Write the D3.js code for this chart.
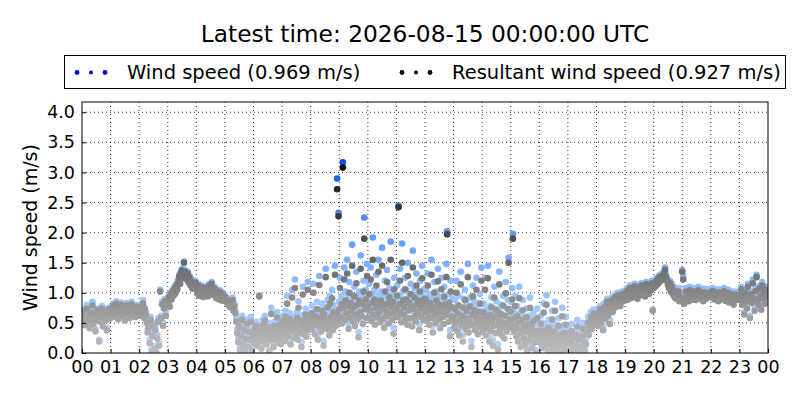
<!DOCTYPE html>
<html>
<head>
<meta charset="utf-8">
<script src="https://cdn.jsdelivr.net/npm/d3@7"></script>
<style>
  body { margin: 0; background: #fff; }
  text { font-family: "DejaVu Sans", sans-serif; }
</style>
</head>
<body>
<div id="chart"></div>
<script>
// 00:00-05:58, one sample every 2 minutes (m/s), one row per hour
var earlyWind = [
  0.66,0.58,0.72,0.50,0.62,0.80,0.55,0.64,0.45,0.70,0.60,0.85,0.52,0.68,0.40,0.58,0.74,0.62,0.22,0.55,0.66,0.78,0.48,0.63,0.70,0.57,0.42,0.69,0.75,0.60,
  0.70,0.78,0.64,0.82,0.73,0.68,0.86,0.75,0.60,0.79,0.71,0.84,0.66,0.76,0.80,0.58,0.74,0.83,0.69,0.77,0.62,0.72,0.85,0.67,0.78,0.71,0.64,0.80,0.74,0.68,
  0.74,0.66,0.80,0.70,0.88,0.62,0.75,0.68,0.55,0.40,0.48,0.22,0.60,0.05,0.35,0.50,0.12,0.44,0.02,0.30,0.58,0.18,1.05,0.62,0.85,0.50,0.78,0.90,0.66,0.82,
  0.85,0.95,0.80,1.00,0.92,1.05,0.98,1.10,1.02,1.15,1.08,1.22,1.30,1.18,1.36,1.40,1.28,1.52,1.38,1.32,1.25,1.35,1.20,1.28,1.15,1.22,1.10,1.18,1.12,1.20,
  1.10,1.02,1.15,0.98,1.08,1.05,1.12,0.96,1.04,1.10,1.00,1.06,0.97,1.14,1.08,1.02,1.18,1.05,0.99,1.10,1.03,0.94,1.06,1.00,0.92,1.04,0.98,0.90,1.00,0.94,
  0.96,0.88,0.92,0.84,0.90,0.80,0.86,0.78,0.92,0.74,0.82,0.70,0.58,0.40,0.25,0.50,0.10,0.35,0.62,0.20,0.45,0.05,0.30,0.55,0.15,0.42,0.28,0.60,0.08,0.38
];
var earlyResultant = [
  0.63,0.55,0.70,0.46,0.60,0.74,0.52,0.61,0.41,0.67,0.57,0.79,0.48,0.65,0.36,0.55,0.71,0.59,0.19,0.52,0.63,0.74,0.44,0.60,0.67,0.54,0.38,0.66,0.72,0.57,
  0.67,0.75,0.60,0.79,0.70,0.64,0.82,0.72,0.56,0.76,0.68,0.80,0.62,0.73,0.77,0.54,0.71,0.79,0.66,0.74,0.58,0.69,0.81,0.63,0.75,0.68,0.60,0.77,0.71,0.64,
  0.71,0.63,0.76,0.67,0.82,0.58,0.72,0.64,0.50,0.34,0.43,0.16,0.55,0.02,0.28,0.45,0.07,0.38,0.00,0.24,0.52,0.12,1.02,0.58,0.81,0.45,0.74,0.86,0.62,0.78,
  0.82,0.92,0.77,0.97,0.89,1.02,0.95,1.07,0.99,1.12,1.05,1.19,1.27,1.15,1.33,1.37,1.25,1.50,1.35,1.29,1.22,1.32,1.17,1.25,1.12,1.19,1.07,1.15,1.09,1.17,
  1.07,0.99,1.12,0.95,1.05,1.02,1.09,0.93,1.01,1.07,0.97,1.03,0.94,1.11,1.05,0.99,1.15,1.02,0.96,1.07,1.00,0.91,1.03,0.97,0.89,1.01,0.95,0.87,0.97,0.91,
  0.93,0.85,0.89,0.81,0.87,0.77,0.83,0.75,0.88,0.70,0.78,0.66,0.52,0.33,0.18,0.44,0.05,0.28,0.55,0.14,0.38,0.02,0.24,0.48,0.10,0.35,0.22,0.52,0.04,0.31
];

// 06:00-16:58, gusty part of the day, one sample every 90 seconds (m/s)
var dayWind = [
  0.35,0.22,0.48,0.30,0.52,0.18,0.41,0.27,0.96,0.44,0.33,0.12,0.38,0.55,0.25,0.46,0.62,0.30,0.20,0.42,0.36,0.50,0.05,0.28,0.45,0.75,0.34,0.40,0.16,0.52,0.29,0.47,0.38,0.68,0.24,0.43,0.31,0.55,0.21,0.39,
  0.45,0.62,0.38,0.55,0.28,0.70,0.48,0.95,0.36,0.58,0.42,0.66,0.22,0.52,1.05,0.47,0.60,0.33,1.22,0.54,0.40,0.68,0.30,0.86,0.50,0.44,0.62,0.18,0.56,1.10,0.39,0.64,0.48,0.74,0.35,0.58,1.18,0.46,0.66,0.52,
  0.62,0.48,0.78,0.55,1.15,0.66,0.40,0.72,0.58,0.85,0.30,0.64,1.28,0.52,0.70,0.45,0.82,0.60,0.20,0.75,0.54,1.40,0.68,0.50,0.88,0.62,0.38,0.95,0.57,0.72,1.05,0.48,0.80,0.65,1.45,0.55,0.74,2.90,0.68,2.33,
  0.85,1.25,0.72,0.95,0.60,3.17,0.88,1.42,0.66,1.02,0.78,1.55,0.92,0.50,1.18,0.70,0.98,0.82,1.80,0.64,0.90,1.10,0.55,0.76,1.35,0.94,0.68,0.35,1.02,0.80,1.62,0.74,0.96,0.58,1.20,2.25,0.86,1.05,0.70,1.48,
  0.92,0.70,1.15,0.82,1.42,0.64,0.98,1.92,0.76,1.05,0.58,0.88,1.30,0.72,0.95,1.55,0.80,0.62,1.02,0.86,1.75,0.68,0.94,0.52,1.20,0.84,0.74,1.38,0.96,0.60,1.08,0.78,1.85,0.90,0.66,1.00,0.42,1.25,0.82,0.72,
  0.88,1.12,0.72,2.45,0.95,1.40,0.80,0.62,1.82,1.02,0.76,0.90,1.25,0.68,1.05,0.58,1.50,0.84,0.98,0.70,1.15,0.92,0.55,1.70,0.86,1.08,0.74,0.64,1.32,0.96,0.80,1.02,0.48,1.20,0.88,0.72,1.45,0.94,0.66,1.06,
  0.82,1.05,0.66,0.92,1.32,0.74,0.58,0.98,0.86,1.55,0.70,0.45,0.90,1.18,0.78,0.62,1.02,0.84,1.40,0.68,0.94,0.52,0.80,1.25,0.72,0.88,0.60,1.10,0.96,0.76,1.48,2.02,0.85,0.64,0.98,0.38,1.20,0.74,0.90,0.66,
  0.72,0.55,0.88,0.64,1.20,0.48,0.80,0.95,0.40,0.68,1.35,0.58,0.76,0.30,0.90,0.62,1.05,0.52,0.84,0.70,1.48,0.45,0.66,0.92,0.58,0.20,0.78,1.12,0.60,0.86,0.50,0.74,1.25,0.65,0.42,0.82,0.56,0.98,0.70,1.42,
  0.65,0.48,0.82,0.58,1.25,0.40,0.72,0.55,1.45,0.62,0.30,0.78,0.50,0.92,0.68,0.22,0.58,1.10,0.74,0.45,0.86,0.60,0.15,0.70,1.35,0.52,0.80,0.42,0.64,0.95,0.56,0.35,0.76,1.18,0.62,0.48,0.88,1.58,0.70,0.55,
  0.85,0.62,1.08,1.98,0.72,0.48,0.95,0.58,0.40,0.78,0.30,0.65,1.10,0.52,0.20,0.70,0.45,0.88,0.36,0.60,0.25,0.55,0.74,0.12,0.48,0.62,0.32,0.92,0.42,0.58,0.18,0.50,0.68,0.28,0.44,0.05,0.38,0.74,0.30,0.50,
  0.40,0.28,0.62,0.35,0.18,0.50,0.82,0.30,0.45,0.22,0.96,0.38,0.12,0.55,0.32,0.05,0.44,0.26,0.70,0.36,0.15,0.48,0.85,0.28,0.40,0.10,0.34,0.58,0.22,0.42,0.02,0.30,0.75,0.25,0.45,0.15,0.38,0.60,0.28,0.44
];
var dayResultant = [
  0.29,0.16,0.41,0.24,0.45,0.12,0.34,0.21,0.94,0.37,0.27,0.07,0.31,0.47,0.19,0.39,0.54,0.23,0.14,0.35,0.29,0.43,0.02,0.21,0.38,0.65,0.27,0.33,0.10,0.45,0.22,0.40,0.31,0.59,0.17,0.36,0.24,0.47,0.15,0.32,
  0.37,0.53,0.30,0.46,0.20,0.60,0.40,0.82,0.28,0.49,0.34,0.56,0.14,0.43,0.92,0.39,0.51,0.25,1.08,0.45,0.32,0.58,0.22,0.75,0.41,0.36,0.53,0.10,0.47,0.97,0.31,0.55,0.40,0.64,0.27,0.49,1.05,0.38,0.57,0.43,
  0.52,0.39,0.66,0.45,1.00,0.55,0.31,0.61,0.48,0.73,0.22,0.53,1.13,0.42,0.59,0.36,0.70,0.50,0.12,0.64,0.44,1.26,0.57,0.40,0.76,0.52,0.29,0.82,0.47,0.61,0.91,0.38,0.68,0.55,1.30,0.45,0.63,2.72,0.57,2.27,
  0.72,1.08,0.60,0.81,0.49,3.08,0.75,1.22,0.55,0.87,0.66,1.32,0.78,0.40,1.00,0.59,0.83,0.70,1.45,0.53,0.76,0.94,0.45,0.64,1.16,0.80,0.57,0.26,0.87,0.68,1.40,0.62,0.82,0.48,1.02,1.90,0.73,0.89,0.58,1.28,
  0.78,0.58,0.98,0.70,1.22,0.53,0.83,1.55,0.64,0.89,0.47,0.75,1.12,0.60,0.81,1.35,0.68,0.51,0.87,0.73,1.45,0.57,0.80,0.42,1.02,0.71,0.62,1.18,0.82,0.49,0.92,0.66,1.55,0.77,0.55,0.85,0.32,1.06,0.70,0.60,
  0.75,0.95,0.60,2.42,0.81,1.20,0.68,0.51,1.50,0.87,0.64,0.77,1.06,0.56,0.89,0.47,1.28,0.71,0.83,0.58,0.98,0.78,0.44,1.42,0.73,0.92,0.62,0.53,1.12,0.82,0.67,0.87,0.38,1.02,0.75,0.60,1.24,0.80,0.55,0.90,
  0.69,0.89,0.54,0.78,1.12,0.62,0.47,0.83,0.72,1.30,0.58,0.34,0.76,1.00,0.65,0.50,0.87,0.71,1.19,0.56,0.80,0.41,0.67,1.06,0.60,0.74,0.48,0.93,0.81,0.63,1.26,1.97,0.72,0.52,0.83,0.28,1.02,0.61,0.76,0.54,
  0.59,0.43,0.73,0.51,1.00,0.36,0.66,0.79,0.29,0.55,1.14,0.46,0.62,0.19,0.75,0.49,0.88,0.40,0.70,0.57,1.26,0.34,0.53,0.77,0.46,0.10,0.64,0.94,0.48,0.71,0.38,0.60,1.05,0.52,0.31,0.68,0.44,0.82,0.57,1.20,
  0.52,0.36,0.67,0.45,1.05,0.29,0.58,0.42,1.24,0.49,0.19,0.63,0.37,0.76,0.54,0.12,0.45,0.92,0.60,0.33,0.71,0.47,0.06,0.56,1.14,0.40,0.65,0.30,0.51,0.79,0.43,0.24,0.62,0.99,0.49,0.36,0.73,1.50,0.56,0.42,
  0.69,0.48,0.89,1.90,0.57,0.35,0.78,0.44,0.28,0.62,0.19,0.51,0.91,0.39,0.10,0.55,0.33,0.71,0.24,0.46,0.14,0.42,0.59,0.04,0.35,0.48,0.21,0.75,0.30,0.44,0.08,0.37,0.53,0.17,0.32,0.00,0.26,0.58,0.19,0.37,
  0.28,0.17,0.48,0.23,0.08,0.37,0.67,0.19,0.33,0.12,0.80,0.26,0.04,0.42,0.21,0.00,0.32,0.15,0.56,0.24,0.06,0.36,0.70,0.17,0.28,0.03,0.23,0.45,0.12,0.30,0.00,0.19,0.61,0.14,0.33,0.06,0.26,0.47,0.17,0.32
];

// 17:00-24:00, one sample every 2 minutes (m/s)
var lateWind = [
  0.40,0.25,0.12,0.30,0.48,0.35,0.18,0.05,0.22,0.42,0.55,0.32,0.15,0.02,0.20,0.38,0.50,0.28,0.10,0.25,0.45,0.60,0.40,0.52,0.68,0.48,0.58,0.72,0.62,0.55,
  0.60,0.72,0.52,0.66,0.78,0.58,0.70,0.45,0.82,0.64,0.75,0.90,0.68,0.85,0.55,0.80,0.92,0.74,0.88,0.96,0.80,0.90,1.00,0.86,0.94,0.82,0.98,1.02,0.90,0.96,
  0.98,1.05,0.92,1.08,1.00,1.12,0.95,1.04,1.10,0.97,1.15,1.02,1.08,0.94,1.12,1.05,1.00,1.16,1.08,1.03,1.12,0.98,1.18,1.06,1.10,1.02,1.14,1.08,1.20,0.72,
  1.12,1.20,1.15,1.24,1.18,1.28,1.22,1.30,1.25,1.32,1.28,1.36,1.42,1.30,1.24,1.18,1.12,1.20,1.08,1.15,1.05,1.10,1.00,1.06,0.98,1.04,1.08,0.96,1.02,1.00,
  1.38,1.28,1.02,0.92,1.08,0.98,1.05,0.94,1.10,1.00,1.04,0.96,1.08,1.02,0.95,1.06,0.99,1.10,1.03,0.96,1.05,1.00,0.93,1.07,1.01,0.97,1.04,0.99,1.06,1.01,
  1.03,0.97,1.08,1.00,0.94,1.05,0.99,1.02,0.92,1.06,1.00,0.96,1.04,0.98,1.08,0.93,1.01,0.97,1.05,0.90,0.99,1.03,0.95,1.00,0.88,0.97,1.02,0.94,0.99,0.96,
  1.00,0.92,1.10,0.85,0.98,0.68,1.05,0.90,0.80,1.15,0.95,0.62,1.02,0.88,1.22,0.96,0.75,1.08,1.30,0.92,0.85,1.12,1.00,0.78,1.18,0.95,1.05,0.88,1.10,0.98,
  0.969
];
var lateResultant = [
  0.30,0.16,0.05,0.20,0.36,0.25,0.08,0.00,0.12,0.30,0.44,0.22,0.06,0.00,0.10,0.28,0.40,0.18,0.03,0.15,0.35,0.50,0.30,0.44,0.60,0.40,0.50,0.65,0.55,0.48,
  0.54,0.66,0.45,0.60,0.72,0.50,0.64,0.38,0.76,0.57,0.70,0.85,0.62,0.80,0.48,0.75,0.88,0.68,0.84,0.92,0.76,0.86,0.96,0.82,0.90,0.78,0.94,0.98,0.86,0.92,
  0.94,1.01,0.88,1.04,0.96,1.08,0.91,1.00,1.06,0.93,1.11,0.98,1.04,0.90,1.08,1.01,0.96,1.12,1.04,0.99,1.08,0.94,1.14,1.02,1.06,0.98,1.10,1.04,1.16,0.70,
  1.08,1.16,1.11,1.20,1.14,1.24,1.18,1.26,1.21,1.28,1.24,1.32,1.38,1.26,1.20,1.14,1.08,1.16,1.02,1.10,0.98,1.04,0.92,1.00,0.90,0.96,1.02,0.86,0.94,0.92,
  1.35,1.22,0.82,0.86,1.02,0.92,0.99,0.86,1.04,0.94,0.98,0.89,1.02,0.96,0.88,1.00,0.93,1.04,0.97,0.90,0.99,0.94,0.86,1.01,0.95,0.90,0.98,0.93,1.00,0.95,
  0.99,0.92,1.03,0.95,0.89,1.00,0.94,0.97,0.86,1.01,0.95,0.90,0.99,0.93,1.03,0.87,0.96,0.91,1.00,0.84,0.93,0.98,0.89,0.95,0.80,0.91,0.97,0.88,0.94,0.90,
  0.96,0.88,1.06,0.80,0.94,0.64,1.00,0.85,0.74,1.10,0.90,0.58,0.98,0.83,1.16,0.91,0.70,1.03,1.26,0.87,0.80,1.07,0.95,0.72,1.12,0.90,1.00,0.82,1.05,0.93,
  0.927
];

// start minute and sampling step of each block
var blocks = [
  { start: 0, step: 2, wind: earlyWind, resultant: earlyResultant },
  { start: 360, step: 1.5, wind: dayWind, resultant: dayResultant },
  { start: 1020, step: 2, wind: lateWind, resultant: lateResultant }
];

var hourLabels = ["00","01","02","03","04","05","06","07","08","09","10","11",
                  "12","13","14","15","16","17","18","19","20","21","22","23","00"];
var yTicks = [0, 0.5, 1, 1.5, 2, 2.5, 3, 3.5, 4];

var latestTime = "2026-08-15 00:00:00 UTC";

// flatten the blocks into one list of samples
var samples = [];
blocks.forEach(function (b) {
  b.wind.forEach(function (w, i) {
    samples.push({ minute: b.start + i * b.step, wind: w, resultant: b.resultant[i] });
  });
});
var latest = samples[samples.length - 1];

// svg area
var svgWidth = 800;
var svgHeight = 400;
var plot = { left: 82, right: 768, top: 102, bottom: 353 };

var svg = d3.select("#chart").append("svg")
  .attr("width", svgWidth)
  .attr("height", svgHeight);

var x = d3.scaleLinear().domain([0, 1440]).range([plot.left, plot.right]);
var y = d3.scaleLinear().domain([0, 4.17]).range([plot.bottom, plot.top]);

// colour grows darker with speed
var blueColor = d3.scaleLinear()
  .domain([0, 1, 2, 3.2])
  .range(["#b6d4ff", "#98c2ff", "#5a98ff", "#0050e8"])
  .clamp(true);
var greyColor = d3.scaleLinear()
  .domain([0, 0.5, 1, 1.5, 2, 3.1])
  .range(["#bcbcbc", "#a6a6a6", "#878787", "#676767", "#474747", "#141414"])
  .clamp(true);

// grid
var grid = svg.append("g");
grid.selectAll("line.vx").data(d3.range(1, 24)).enter().append("line")
  .attr("x1", d => x(d * 60)).attr("x2", d => x(d * 60))
  .attr("y1", plot.top).attr("y2", plot.bottom);
grid.selectAll("line.hy").data(yTicks.slice(1)).enter().append("line")
  .attr("x1", plot.left).attr("x2", plot.right)
  .attr("y1", d => y(d)).attr("y2", d => y(d));
grid.selectAll("line")
  .attr("stroke", "#000")
  .attr("stroke-width", 0.8)
  .attr("stroke-dasharray", "1,3");

// dots
svg.append("clipPath").attr("id", "clip").append("rect")
  .attr("x", plot.left).attr("y", plot.top)
  .attr("width", plot.right - plot.left).attr("height", plot.bottom - plot.top);

var dots = svg.append("g").attr("clip-path", "url(#clip)");
dots.selectAll("circle.ws").data(samples).enter().append("circle")
  .attr("cx", d => x(d.minute))
  .attr("cy", d => y(d.wind))
  .attr("r", 3.3)
  .attr("fill", d => blueColor(d.wind));
dots.selectAll("circle.rs").data(samples).enter().append("circle")
  .attr("cx", d => x(d.minute))
  .attr("cy", d => y(d.resultant))
  .attr("r", 3.3)
  .attr("fill", d => greyColor(d.resultant));

// axes
var xAxis = d3.axisBottom(x)
  .tickValues(d3.range(0, 25).map(h => h * 60))
  .tickFormat((d, i) => hourLabels[i])
  .tickSizeInner(-4).tickSizeOuter(0).tickPadding(8);
svg.append("g")
  .attr("transform", `translate(0, ${plot.bottom})`)
  .call(xAxis)
  .call(g => g.select(".domain").remove())
  .selectAll("text").attr("font-size", 17.5).attr("fill", "#000");

var yAxis = d3.axisLeft(y)
  .tickValues(yTicks)
  .tickFormat(d3.format(".1f"))
  .tickSizeInner(-4).tickSizeOuter(0).tickPadding(7);
svg.append("g")
  .attr("transform", `translate(${plot.left}, 0)`)
  .call(yAxis)
  .call(g => g.select(".domain").remove())
  .selectAll("text").attr("font-size", 17.5).attr("fill", "#000");

svg.selectAll(".tick line").attr("stroke", "#000");

// frame
svg.append("rect")
  .attr("x", plot.left).attr("y", plot.top)
  .attr("width", plot.right - plot.left).attr("height", plot.bottom - plot.top)
  .attr("fill", "none").attr("stroke", "#000").attr("stroke-width", 1);

// y label
svg.append("text")
  .attr("transform", `translate(37, ${(plot.top + plot.bottom) / 2}) rotate(-90)`)
  .attr("text-anchor", "middle")
  .attr("font-size", 19)
  .text("Wind speed (m/s)");

// title
svg.append("text")
  .attr("x", 425).attr("y", 42)
  .attr("text-anchor", "middle")
  .attr("font-size", 23.3)
  .text("Latest time: " + latestTime);

// legend
var legend = svg.append("g");
legend.append("rect")
  .attr("x", 64.5).attr("y", 55.5).attr("width", 721).attr("height", 33)
  .attr("fill", "#fff").attr("stroke", "#000");

var legendItems = [
  { x: 77, color: "#0000ff", label: "Wind speed (" + d3.format(".3f")(latest.wind) + " m/s)", tx: 127 },
  { x: 402, color: "#000000", label: "Resultant wind speed (" + d3.format(".3f")(latest.resultant) + " m/s)", tx: 452 }
];
var markerSizes = [2.4, 2.0, 2.4];
legendItems.forEach(function (item) {
  markerSizes.forEach(function (r, k) {
    legend.append("circle")
      .attr("cx", item.x + k * 14).attr("cy", 72.5)
      .attr("r", r).attr("fill", item.color);
  });
  legend.append("text")
    .attr("x", item.tx).attr("y", 79)
    .attr("font-size", 19.5)
    .text(item.label);
});
</script>
</body>
</html>
